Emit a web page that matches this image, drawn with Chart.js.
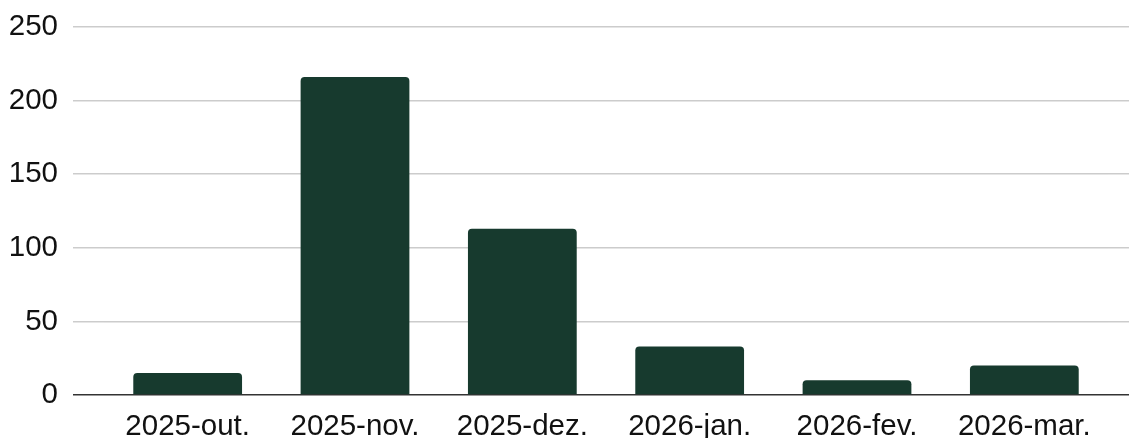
<!DOCTYPE html>
<html>
<head>
<meta charset="utf-8">
<script src="https://cdn.jsdelivr.net/npm/chart.js@4/dist/chart.umd.min.js"></script>
<style>
    html, body { margin: 0; padding: 0; background: #ffffff; }
    #wrap { width: 1129px; height: 438px; }
</style>
</head>
<body>
<div id="wrap"><canvas id="barChart" width="1129" height="438"></canvas></div>
<script>
// Dados do gráfico
const months = ['2025-out.', '2025-nov.', '2025-dez.', '2026-jan.', '2026-fev.', '2026-mar.'];
const counts = [15, 216, 113, 33, 10, 20];
const yTicks = [0, 50, 100, 150, 200, 250];

const BAR_COLOR = '#173a2e';
const GRID_COLOR = '#cccccc';
const ZERO_COLOR = '#333333';
const TEXT_COLOR = '#111111';

const gridColor = (ctx) => ctx.tick && ctx.tick.value === 0 ? ZERO_COLOR : GRID_COLOR;

new Chart(document.getElementById('barChart'), {
    type: 'bar',
    data: {
        labels: months,
        datasets: [{
            data: counts,
            backgroundColor: BAR_COLOR,
            borderRadius: 4,
            barPercentage: 0.65,
            categoryPercentage: 1
        }]
    },
    options: {
        responsive: false,
        animation: false,
        layout: { padding: { top: 27, right: 0, bottom: 0, left: 0 } },
        plugins: {
            legend: { display: false },
            tooltip: { enabled: false }
        },
        scales: {
            x: {
                grid: { display: false },
                border: { display: false },
                ticks: {
                    color: TEXT_COLOR,
                    font: { family: 'Liberation Sans', size: 29.5 },
                    padding: 6,
                    maxRotation: 0
                },
                afterFit(scale) {
                    scale.height = 43;
                    scale.paddingLeft = 0;
                    scale.paddingRight = 0;
                }
            },
            y: {
                min: 0,
                max: 250,
                afterBuildTicks(scale) { scale.ticks = yTicks.map(v => ({ value: v })); },
                grid: {
                    color: gridColor,
                    lineWidth: 1.5,
                    tickLength: 31,
                    tickColor: gridColor
                },
                border: { display: false },
                ticks: {
                    color: TEXT_COLOR,
                    font: { family: 'Liberation Sans', size: 29.5 },
                    padding: 15
                },
                afterFit(scale) {
                    scale.width = 104;
                    scale.paddingTop = 0;
                    scale.paddingBottom = 0;
                }
            },
            yRight: {
                position: 'right',
                min: 0,
                max: 250,
                afterBuildTicks(scale) { scale.ticks = yTicks.map(v => ({ value: v })); },
                grid: {
                    drawOnChartArea: false,
                    color: gridColor,
                    lineWidth: 1.5,
                    tickLength: 21,
                    tickColor: gridColor
                },
                border: { display: false },
                ticks: { display: false },
                afterFit(scale) {
                    scale.width = 21;
                    scale.paddingTop = 0;
                    scale.paddingBottom = 0;
                }
            }
        }
    }
});
</script>
</body>
</html>
